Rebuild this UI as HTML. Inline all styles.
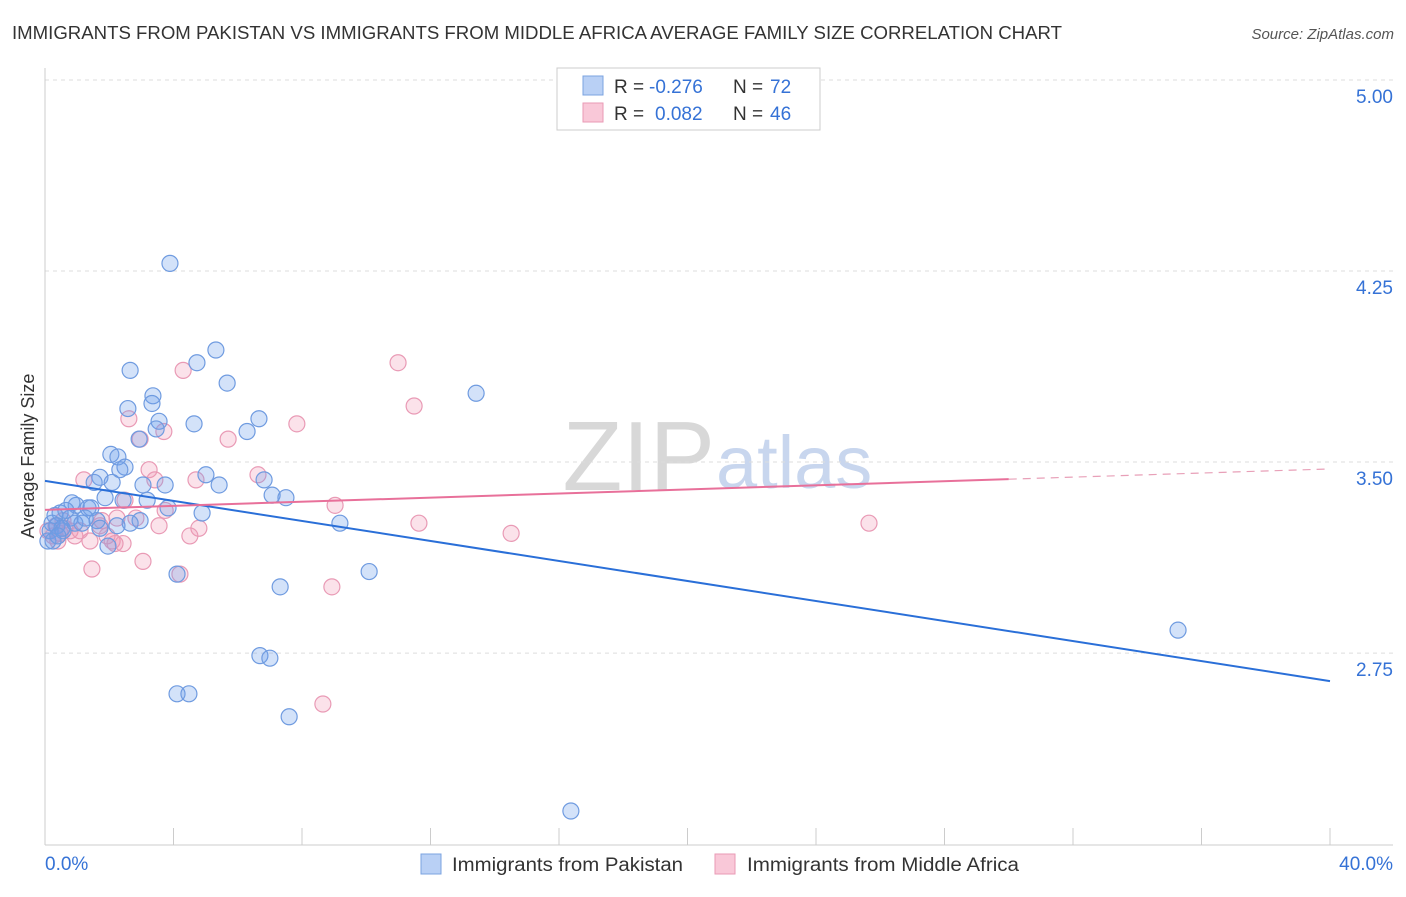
<!DOCTYPE html>
<html><head><meta charset="utf-8"><style>
body{margin:0;background:#fff;font-family:"Liberation Sans",sans-serif;}
svg text{font-family:"Liberation Sans",sans-serif;}
</style></head><body>
<svg id="chart" width="1406" height="892" viewBox="0 0 1406 892" xmlns="http://www.w3.org/2000/svg">
<text x="12" y="39" font-size="18" fill="#333" textLength="1050" lengthAdjust="spacingAndGlyphs">IMMIGRANTS FROM PAKISTAN VS IMMIGRANTS FROM MIDDLE AFRICA AVERAGE FAMILY SIZE CORRELATION CHART</text>
<text x="1394" y="39" font-size="15" fill="#555" font-style="italic" text-anchor="end">Source: ZipAtlas.com</text>
<text x="715" y="490" font-size="98" fill="#d8d8d8" font-family="Liberation Serif" text-anchor="end">ZIP</text>
<text x="716" y="488" font-size="74" fill="#c8d6ee">atlas</text>
<g id="grid"></g><g id="axes"></g><g id="pts"></g><g id="lines"></g>
<g>
<rect x="557" y="68" width="263" height="62" fill="#fff" stroke="#ccc"/>
<rect x="583" y="76" width="20" height="19" fill="#b9d0f5" stroke="#7ba3e0"/>
<rect x="583" y="103" width="20" height="19" fill="#f9c8d8" stroke="#e99ab5"/>
<text x="614" y="93" font-size="19" fill="#333">R =</text>
<text x="649" y="93" font-size="19" fill="#3572d6">-0.276</text>
<text x="733" y="93" font-size="19" fill="#333">N =</text>
<text x="770" y="93" font-size="19" fill="#3572d6">72</text>
<text x="614" y="120" font-size="19" fill="#333">R =</text>
<text x="655" y="120" font-size="19" fill="#3572d6">0.082</text>
<text x="733" y="120" font-size="19" fill="#333">N =</text>
<text x="770" y="120" font-size="19" fill="#3572d6">46</text>
</g>
<g>
<rect x="421" y="854" width="20" height="20" fill="#b9d0f5" stroke="#7ba3e0"/>
<text x="452" y="871" font-size="19" fill="#333" textLength="231" lengthAdjust="spacingAndGlyphs">Immigrants from Pakistan</text>
<rect x="715" y="854" width="20" height="20" fill="#f9c8d8" stroke="#e99ab5"/>
<text x="747" y="871" font-size="19" fill="#333" textLength="272" lengthAdjust="spacingAndGlyphs">Immigrants from Middle Africa</text>
</g>
</svg>
<script>
const yTicks=[2.75,3.50,4.25,5.00];
const yTickLabels=["2.75","3.50","4.25","5.00"];
const xTickLabels=["0.0%","40.0%"];
const bluePct=[3.89,5.32,4.73,2.65,5.67,13.42,3.36,2.58,3.33,6.66,4.64,3.55,6.29,3.46,2.93,2.05,2.27,2.49,2.33,5.01,6.82,1.71,1.53,2.09,3.05,3.74,5.42,1.87,7.07,7.50,2.43,3.18,0.97,0.84,1.34,1.43,3.83,0.47,4.89,0.31,0.78,1.62,2.96,2.65,1.15,9.18,0.22,0.37,0.53,1.71,2.24,0.16,0.09,0.25,1.96,4.11,10.09,7.32,6.69,7.00,4.11,4.48,7.60,16.37,35.27,0.56,0.93,1.25,0.40,0.65];
const blueVal=[4.28,3.94,3.89,3.86,3.81,3.77,3.76,3.71,3.73,3.67,3.65,3.66,3.62,3.63,3.59,3.53,3.52,3.48,3.47,3.45,3.43,3.44,3.42,3.42,3.41,3.41,3.41,3.36,3.37,3.36,3.35,3.35,3.33,3.34,3.32,3.32,3.32,3.30,3.30,3.29,3.28,3.27,3.27,3.26,3.26,3.26,3.26,3.25,3.24,3.24,3.25,3.23,3.19,3.19,3.17,3.06,3.07,3.01,2.74,2.73,2.59,2.59,2.50,2.13,2.84,3.23,3.26,3.28,3.21,3.31];
const pinkPct=[10.99,4.30,11.49,2.61,7.84,3.70,2.96,5.70,3.24,1.21,6.63,4.70,3.42,2.49,9.03,3.74,2.24,2.83,11.64,3.55,25.65,4.79,1.71,0.78,4.51,14.51,0.47,0.25,0.93,1.40,2.09,2.43,3.05,4.20,1.46,8.93,8.65,0.09,0.34,0.62,1.09,1.93,1.77,0.56,0.40,2.18];
const pinkVal=[3.89,3.86,3.72,3.67,3.65,3.62,3.59,3.59,3.47,3.43,3.45,3.43,3.43,3.35,3.33,3.31,3.28,3.28,3.26,3.25,3.26,3.24,3.25,3.23,3.21,3.22,3.22,3.21,3.21,3.19,3.19,3.18,3.11,3.06,3.08,3.01,2.55,3.23,3.25,3.24,3.23,3.21,3.27,3.27,3.19,3.18];
const blueTrend=[3.426,2.64];
const pinkTrend=[3.312,3.473];
const pinkSolidEnd=30;

const NS="http://www.w3.org/2000/svg";
const X=p=>45+p*32.125;
const Y=v=>80+(5-v)*254.7;
function mk(tag,attrs,parent){const e=document.createElementNS(NS,tag);for(const k in attrs)e.setAttribute(k,attrs[k]);parent.appendChild(e);return e;}
const grid=document.getElementById('grid'),axes=document.getElementById('axes'),pts=document.getElementById('pts'),lines=document.getElementById('lines');
yTicks.forEach((v,i)=>{
 const l=mk('line',{x1:45,x2:1393,y1:Y(v),y2:Y(v),stroke:'#ddd','stroke-dasharray':'4,4'},grid);
 
 
 const t=mk('text',{x:1393,y:Y(v)+23,'font-size':19,fill:'#3572d6','text-anchor':'end'},axes);
 t.textContent=yTickLabels[i];
 
 
});
mk('line',{x1:45,x2:45,y1:68,y2:845,stroke:'#ccc'},axes);
const xa=mk('line',{x1:45,x2:1393,y1:845,y2:845,stroke:'#ccc'},axes);


for(let i=0;i<=10;i++){mk('line',{x1:X(i*4),x2:X(i*4),y1:828,y2:845,stroke:'#ccc'},axes);}
const xl0=mk('text',{x:45,y:870,'font-size':19,fill:'#3572d6'},axes);xl0.textContent=xTickLabels[0];


const xl1=mk('text',{x:1393,y:870,'font-size':19,fill:'#3572d6','text-anchor':'end'},axes);xl1.textContent=xTickLabels[1];


const yt=mk('text',{x:34,y:456,'font-size':18,fill:'#333','text-anchor':'middle',transform:'rotate(-90 34 456)'},axes);yt.textContent='Average Family Size';


pinkPct.forEach((p,i)=>{const c=mk('circle',{cx:X(p),cy:Y(pinkVal[i]),r:8,fill:'rgba(240,150,180,0.28)',stroke:'#e99ab5','stroke-width':1.2},pts);
 
 });
bluePct.forEach((p,i)=>{const c=mk('circle',{cx:X(p),cy:Y(blueVal[i]),r:8,fill:'rgba(110,160,235,0.3)',stroke:'#6f9be0','stroke-width':1.2},pts);
 
 });
const bt=mk('line',{x1:X(0),y1:Y(blueTrend[0]),x2:X(40),y2:Y(blueTrend[1]),stroke:'#2a6fd8','stroke-width':2},lines);


const pm=pinkTrend[0]+(pinkTrend[1]-pinkTrend[0])*pinkSolidEnd/40;
const pt=mk('line',{x1:X(0),y1:Y(pinkTrend[0]),x2:X(pinkSolidEnd),y2:Y(pm),stroke:'#e8709a','stroke-width':2},lines);


const pd=mk('line',{x1:X(pinkSolidEnd),y1:Y(pm),x2:X(40),y2:Y(pinkTrend[1]),stroke:'#e8a0b8','stroke-width':1.2,'stroke-dasharray':'8,6'},lines);


</script>
</body></html>
